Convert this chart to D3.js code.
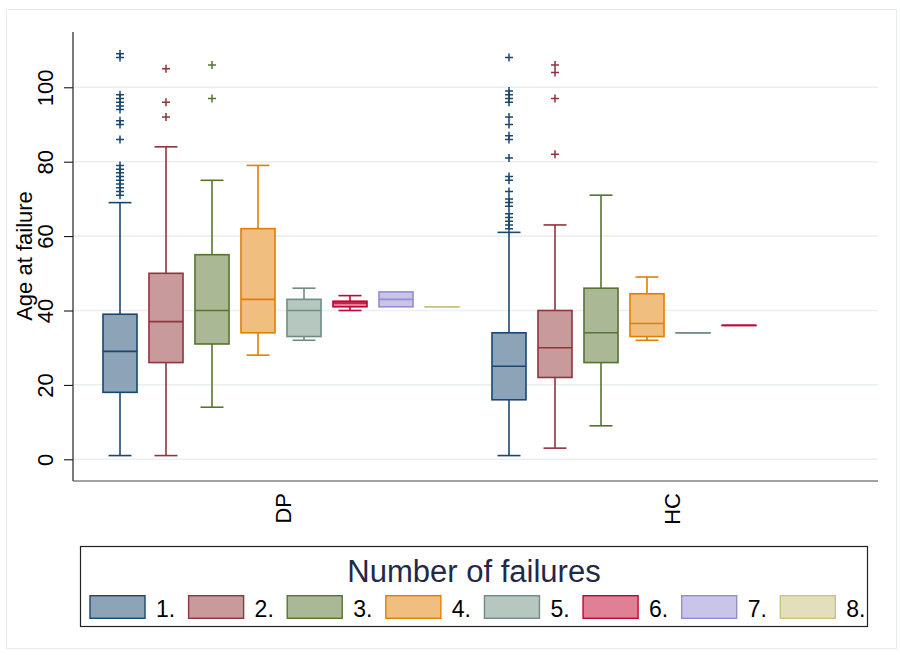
<!DOCTYPE html>
<html><head><meta charset="utf-8">
<script src="https://cdn.jsdelivr.net/npm/d3@7"></script>
<style>body{margin:0;background:#fff}svg{display:block}text{font-family:"Liberation Sans",Arial,sans-serif}</style>
</head><body><svg id="c" width="900" height="655"></svg>
<script>
const groups = ["DP", "HC"];
const categories = ["1.", "2.", "3.", "4.", "5.", "6.", "7.", "8."];
const yTicks = [0, 20, 40, 60, 80, 100];
// per-group box statistics, one entry per category present
const dpLow  = [1, 1, 14, 28, 32, 40, 41, 41];
const dpQ1   = [18, 26, 31, 34, 33, 41, 41, 41];
const dpMed  = [29, 37, 40, 43, 40, 42, 43, 41];
const dpQ3   = [39, 50, 55, 62, 43, 42.5, 45, 41];
const dpHigh = [69, 84, 75, 79, 46, 44, 45, 41];
const dpOut  = [
  [109, 108, 98, 97, 96, 95, 94, 91, 90, 86, 79, 78, 77, 76, 75, 74, 73, 72, 71],
  [105, 96, 92], [106, 97], [], [], [], [], []
];
const hcLow  = [1, 3, 9, 32, 34, 36];
const hcQ1   = [16, 22, 26, 33, 34, 36];
const hcMed  = [25, 30, 34, 36.5, 34, 36];
const hcQ3   = [34, 40, 46, 44.5, 34, 36];
const hcHigh = [61, 63, 71, 49, 34, 36];
const hcOut  = [
  [108, 99, 98, 97, 96, 92, 90, 87, 86, 81, 76, 75, 72, 70, 69, 68, 66, 65, 64, 63, 62],
  [106, 104, 97, 82], [], [], [], []
];
const fills   = ["#8ca3b8", "#c99a9c", "#abb896", "#f0bf7f", "#b5c7bf", "#e08095", "#c9c5e8", "#e3dfbd"];
const strokes = ["#1a476f", "#90353b", "#55752f", "#e37e00", "#6e8e84", "#c10534", "#938dd2", "#cac27e"];

const svg = d3.select("#c");
const FONT = "'Liberation Sans', Arial, sans-serif";

// outer frame
svg.append("rect").attr("x", 6.5).attr("y", 9.5).attr("width", 890).attr("height", 639)
  .attr("fill", "#fff").attr("stroke", "#e6ebee").attr("stroke-width", 1);

const plot = {left: 73, right: 878, top: 32, bottom: 481};
const y = d3.scaleLinear().domain([0, 100]).range([459.3, 87.3]);
const xg = d3.scaleBand().domain(groups).range([97, 854]).paddingInner(21 / 389);
const xc = d3.scaleBand().domain(categories).range([0, xg.bandwidth()]).paddingInner(0.26).paddingOuter(0.13);

// gridlines
svg.append("g").selectAll("line").data(yTicks).join("line")
  .attr("x1", plot.left).attr("x2", plot.right)
  .attr("y1", d => y(d)).attr("y2", d => y(d))
  .attr("stroke", "#eaf0f2").attr("stroke-width", 1.6);

// y axis
const yAxis = d3.axisLeft(y).tickValues(yTicks).tickSize(9).tickPadding(0);
const ga = svg.append("g").attr("transform", `translate(${plot.left},0)`).call(yAxis);
ga.select(".domain").remove();
ga.selectAll(".tick line").attr("stroke", "#000").attr("stroke-width", 1);
ga.selectAll(".tick text").attr("transform", "rotate(-90)")
  .attr("x", 0).attr("y", -20).attr("dy", 0)
  .attr("text-anchor", "middle").attr("font-size", 22).attr("fill", "#000")
  .attr("font-family", FONT);
svg.append("line").attr("x1", plot.left).attr("x2", plot.left).attr("y1", plot.top).attr("y2", plot.bottom)
  .attr("stroke", "#222").attr("stroke-width", 1.2);
svg.append("line").attr("x1", plot.left).attr("x2", plot.right).attr("y1", plot.bottom).attr("y2", plot.bottom)
  .attr("stroke", "#444").attr("stroke-width", 1.2);

svg.append("text").attr("transform", `translate(32,256) rotate(-90)`)
  .attr("text-anchor", "middle").attr("font-size", 22).attr("fill", "#000").attr("font-family", FONT)
  .text("Age at failure");

// group labels
svg.append("g").selectAll("text").data(groups).join("text")
  .attr("transform", d => `translate(${xg(d) + xg.bandwidth() / 2 + 10},493) rotate(-90)`)
  .attr("text-anchor", "end").attr("font-size", 22).attr("fill", "#000").attr("font-family", FONT)
  .text(d => d);

const stats = {
  DP: {low: dpLow, q1: dpQ1, med: dpMed, q3: dpQ3, high: dpHigh, out: dpOut},
  HC: {low: hcLow, q1: hcQ1, med: hcMed, q3: hcQ3, high: hcHigh, out: hcOut}
};
const capW = 23;
groups.forEach(g => {
  const s = stats[g];
  s.med.forEach((m, i) => {
    const x0 = xg(g) + xc(categories[i]);
    const w = xc.bandwidth();
    const cx = x0 + w / 2;
    const gg = svg.append("g");
    const col = strokes[i];
    // whiskers
    gg.append("line").attr("x1", cx).attr("x2", cx).attr("y1", y(s.high[i])).attr("y2", y(s.q3[i]))
      .attr("stroke", col).attr("stroke-width", 1.6);
    gg.append("line").attr("x1", cx).attr("x2", cx).attr("y1", y(s.q1[i])).attr("y2", y(s.low[i]))
      .attr("stroke", col).attr("stroke-width", 1.6);
    if (s.high[i] > s.q3[i]) gg.append("line").attr("x1", cx - capW / 2).attr("x2", cx + capW / 2)
      .attr("y1", y(s.high[i])).attr("y2", y(s.high[i])).attr("stroke", col).attr("stroke-width", 1.6);
    if (s.low[i] < s.q1[i]) gg.append("line").attr("x1", cx - capW / 2).attr("x2", cx + capW / 2)
      .attr("y1", y(s.low[i])).attr("y2", y(s.low[i])).attr("stroke", col).attr("stroke-width", 1.6);
    // box
    gg.append("rect").attr("x", x0).attr("width", w)
      .attr("y", y(s.q3[i])).attr("height", Math.max(0.01, y(s.q1[i]) - y(s.q3[i])))
      .attr("fill", fills[i]).attr("stroke", col).attr("stroke-width", 1.6);
    gg.append("line").attr("x1", x0).attr("x2", x0 + w).attr("y1", y(m)).attr("y2", y(m))
      .attr("stroke", col).attr("stroke-width", 1.6);
    // outliers
    s.out[i].forEach(v => {
      gg.append("path").attr("d", `M${cx - 4},${y(v)}h8M${cx},${y(v) - 4}v8`)
        .attr("stroke", col).attr("stroke-width", 1.5).attr("fill", "none");
    });
  });
});

// legend
const lg = svg.append("g");
lg.append("rect").attr("x", 80.5).attr("y", 546.5).attr("width", 787).attr("height", 80)
  .attr("fill", "#fff").attr("stroke", "#222").attr("stroke-width", 1.2);
lg.append("text").attr("x", 474).attr("y", 582).attr("text-anchor", "middle")
  .attr("font-size", 31).attr("fill", "#1e2a48").attr("font-family", FONT).text("Number of failures");
const lx = d3.scalePoint().domain(categories).range([90, 780.3]);
lg.selectAll("rect.k").data(categories).join("rect").attr("class", "k")
  .attr("x", d => lx(d)).attr("y", 595.7).attr("width", 55).attr("height", 22.6)
  .attr("fill", (d, i) => fills[i]).attr("stroke", (d, i) => strokes[i]).attr("stroke-width", 1.4);
lg.selectAll("text.l").data(categories).join("text").attr("class", "l")
  .attr("x", d => lx(d) + 66).attr("y", 617)
  .attr("font-size", 23).attr("fill", "#000").attr("font-family", FONT).text(d => d);
</script></body></html>
